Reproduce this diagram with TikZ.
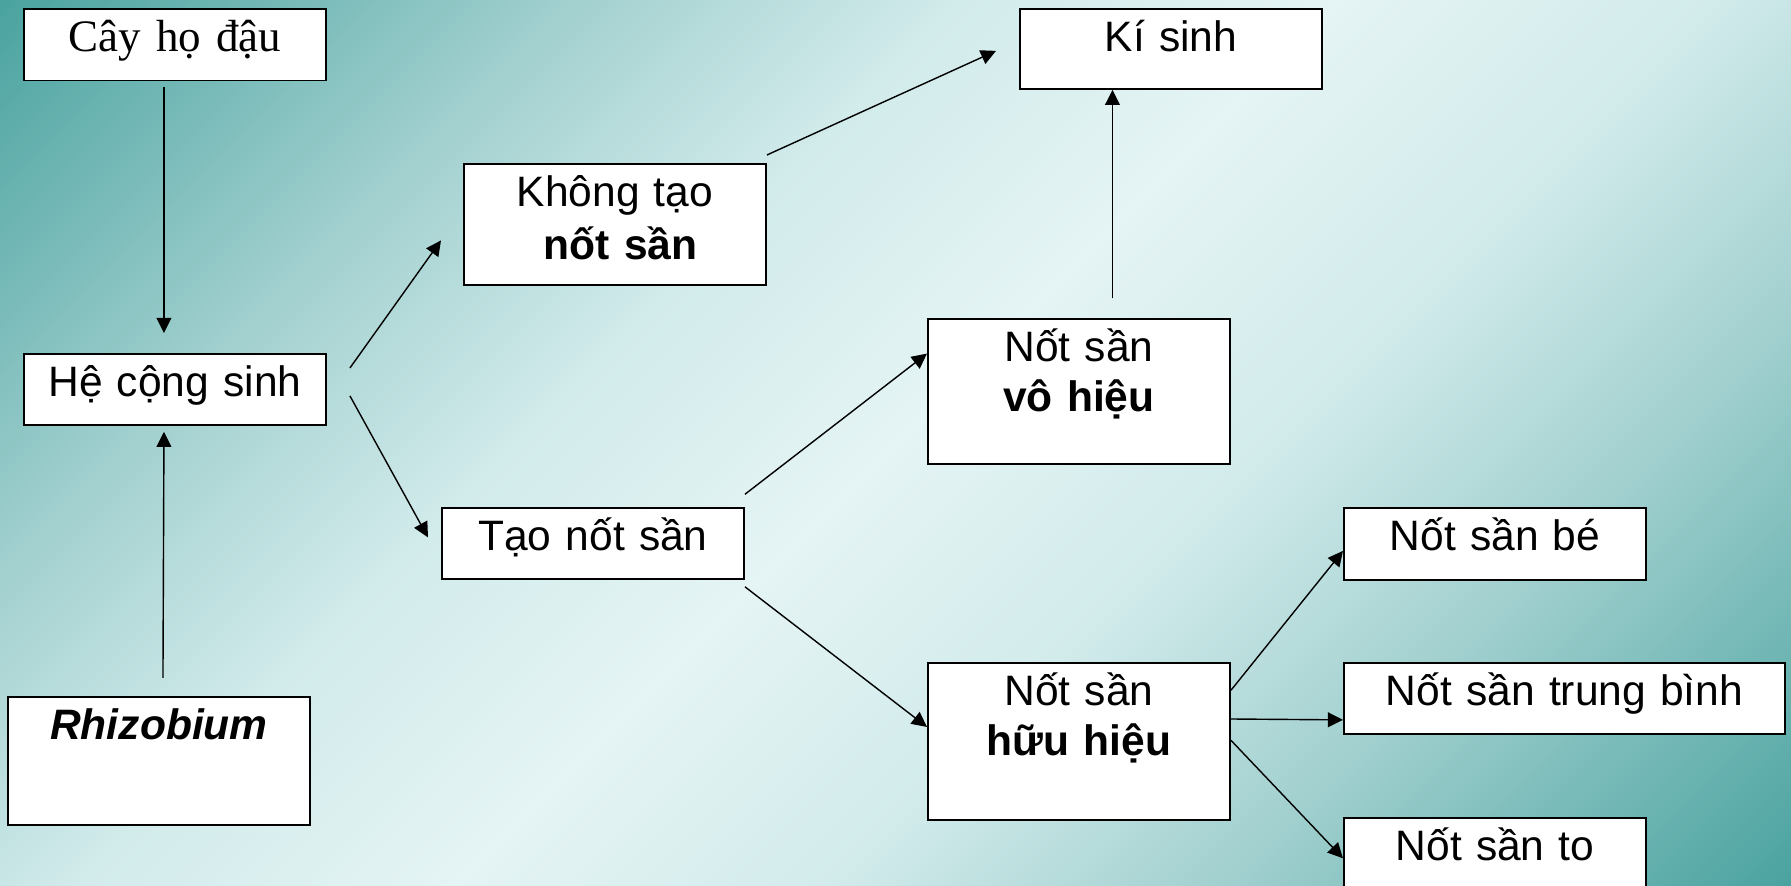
\documentclass[tikz,border=0pt]{standalone}
\usepackage{fontspec}
\setmainfont{Liberation Sans}
\newfontfamily\timesfont{Liberation Serif}
\usetikzlibrary{arrows.meta,calc}

\definecolor{oceandark}{RGB}{75,163,160}
\definecolor{oceanmid}{RGB}{163,209,208}
\definecolor{oceanpale}{RGB}{210,235,235}
\definecolor{oceanlight}{RGB}{229,244,244}
\pgfdeclareverticalshading{ocean}{100bp}{color(0bp)=(oceandark); color(14.64bp)=(oceandark);
    color(30bp)=(oceanmid); color(40bp)=(oceanpale); color(50bp)=(oceanlight);
    color(60bp)=(oceanpale); color(70bp)=(oceanmid);
    color(85.36bp)=(oceandark); color(100bp)=(oceandark)}

\begin{document}
\begin{tikzpicture}
    [%%%%%%%%%%%%%%%%%%%%%%%%%%%%%%
        x=0.01cm, y=-0.01cm,
        box/.style={rectangle, draw=black, line width=0.5pt, fill=white,
            anchor=north west, inner sep=0pt, align=center,
            text width=3.02cm, text height=0.425cm,
            font=\fontsize{12.1}{14.2}\selectfont},
        arr/.style={-{Triangle[length=4.3pt,width=4.2pt]}, line width=0.4pt},
    ]%%%%%%%%%%%%%%%%%%%%%%%%%%%%%%
    \useasboundingbox (0,0) rectangle (1791,886);
    \shade[shading=ocean, shading angle=45] (0,0) rectangle (1791,886);

    \node[box, text depth=0.29cm, font=\timesfont\fontsize{12.8}{15}\selectfont] (cay) at (23,8) {Cây họ đậu};
    \node[box, text depth=0.285cm] (he) at (23,353) {Hệ cộng sinh};
    \node[box, text depth=0.855cm] (rhizo) at (7,696) {\textbf{\textit{Rhizobium}}};

    \node[box, text depth=0.785cm] (khong) at (463,163) {Không tạo\\[0.85pt]\hspace*{3.3pt}\textbf{nốt sần}};
    \node[box, text depth=0.285cm] (tao) at (441,507) {Tạo nốt sần};

    \node[box, text depth=0.375cm] (kisinh) at (1019,8) {Kí sinh};
    \node[box, text depth=1.025cm] (vohieu) at (927,318) {Nốt sần\\\textbf{vô hiệu}};
    \node[box, text depth=1.145cm] (huuhieu) at (927,662) {Nốt sần\\\textbf{hữu hiệu}};

    \node[box, text depth=0.295cm] (nsbe) at (1343,507) {Nốt sần bé};
    \node[box, text depth=0.285cm, text width=4.41cm] (nstb) at (1343,662) {Nốt sần trung bình};
    \node[box, text depth=0.575cm] (nsto) at (1343,817) {Nốt sần to};

    \draw[arr] ($(cay.south)+(-11,6)$) -- ($(he.north)+(-11,-20)$);
    \draw[arr] ($(rhizo.north)+(4,-18)$) -- ($(he.south)+(-11,6)$);
    \draw[arr] ($(he.north east)+(23,15)$) -- ($(khong.west)+(-22,16)$);
    \draw[arr] ($(he.east)+(23,6.5)$) -- ($(tao.west)+(-13,-6)$);
    \draw[arr] ($(khong.north east)+(0,-8)$) -- ($(kisinh.west)+(-23,2)$);
    \draw[arr] ($(tao.north east)+(0,-12.7)$) -- ($(vohieu.north west)+(0,35.6)$);
    \draw[arr] ($(tao.south east)+(0,7)$) -- ($(huuhieu.north west)+(0,65)$);
    \draw[arr] ($(vohieu.north)+(33.5,-19.7)$) -- ($(kisinh.south)+(-58.5,0)$);
    \draw[arr] ($(huuhieu.north east)+(0,28.3)$) -- ($(nsbe.west)+(0,7)$);
    \draw[arr] ($(huuhieu.north east)+(0,57)$) -- ($(nstb.west)+(0,21.5)$);
    \draw[arr] ($(huuhieu.north east)+(0,78.3)$) -- ($(nsto.north west)+(0,41.3)$);
\end{tikzpicture}
\end{document}
